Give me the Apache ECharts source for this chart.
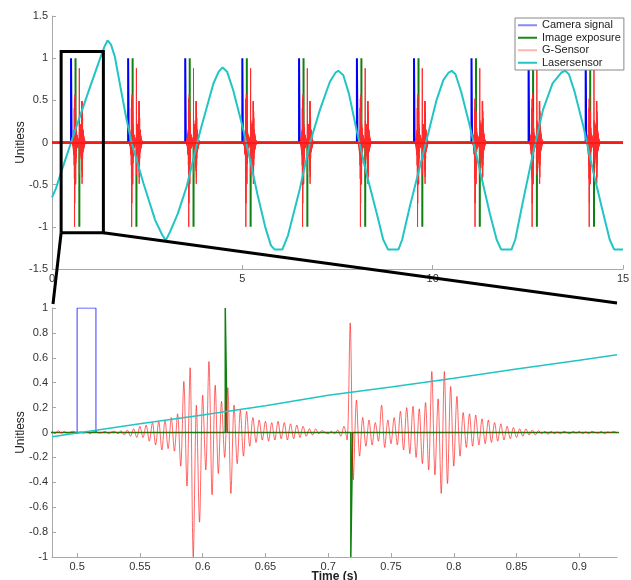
<!DOCTYPE html>
<html>
<head>
<meta charset="utf-8">
<script src="https://cdn.jsdelivr.net/npm/echarts@6/dist/echarts.min.js"></script>
<style>
  html, body { margin: 0; padding: 0; background: #fff; }
  #chart { width: 631px; height: 580px; }
</style>
</head>
<body>
<div id="chart"></div>
<script>
// camera trigger times (s)
const camTimes = [0.5, 2.0, 3.5, 5.0, 6.49, 8.01, 9.51, 11.02, 12.52, 14.02];
const camWidth = 0.015;
// image exposure: +1 pulse and -1 pulse times
const expUpTimes = [0.618, 2.118, 3.618, 5.118, 6.608, 8.128, 9.628, 11.138, 12.638, 14.138];
const expDownTimes = [0.718, 2.218, 3.718, 5.218, 6.708, 8.228, 9.728, 11.238, 12.738, 14.238];
const expWidth = 0.0015;

// G-sensor burst as recorded in the zoom window, sampled every gsDt from gsT0
const gsT0 = 0.48;
const gsDt = 0.0025;
const gsCam = 0.5; // camera time of the recorded burst
const gsVals = [
  0.01, -0.01, 0.015, -0.005, 0.01, -0.015, 0.005, 0.01, -0.01, 0.005,
  -0.005, 0.01, -0.01, 0.005, 0.01, -0.005, 0.0, 0.01, -0.01, 0.005,
  0.01, -0.01, 0.015, -0.02, 0.02, -0.03, 0.03, -0.04, 0.05, -0.04,
  0.06, -0.07, 0.08, -0.1, 0.09, -0.14, 0.1, -0.13, 0.12, -0.15,
  0.15, -0.27, 0.41, -0.43, 0.52, -1.0, 0.22, -0.72, 0.30, -0.30,
  0.57, -0.50, 0.38, -0.33, 0.25, -0.2, 0.36, -0.49, 0.22, -0.25,
  0.18, -0.19, 0.17, -0.11, 0.12, -0.08, 0.10, -0.06, 0.09, -0.07,
  0.08, -0.06, 0.09, -0.05, 0.08, -0.06, 0.07, -0.05, 0.06, -0.04,
  0.05, -0.03, 0.03, -0.02, 0.03, -0.01, 0.015, 0.0, -0.01, 0.01,
  -0.01, 0.02, -0.03, 0.05, -0.06, 0.88, -0.38, 0.26, -0.19, 0.12,
  -0.11, 0.10, -0.10, 0.08, -0.07, 0.22, -0.12, 0.10, -0.09, 0.12,
  -0.10, 0.17, -0.14, 0.20, -0.17, 0.21, -0.20, 0.19, -0.25, 0.24,
  -0.30, 0.49, -0.34, 0.27, -0.49, 0.49, -0.41, 0.37, -0.27, 0.29,
  -0.19, 0.16, -0.12, 0.15, -0.11, 0.14, -0.10, 0.11, -0.09, 0.10,
  -0.08, 0.08, -0.07, 0.07, -0.06, 0.05, -0.05, 0.04, -0.04, 0.03,
  -0.03, 0.03, -0.02, 0.02, -0.02, 0.015, -0.01, 0.01, -0.015, 0.01,
  -0.01, 0.005, -0.01, 0.01, 0.0, -0.01, 0.01, -0.005, 0.01, -0.01,
  0.005, -0.01, 0.01, 0.0, -0.005, 0.01, -0.01, 0.005, 0.0, 0.01, -0.005
];

// laser sensor, full record
const laserT = [0, 0.1, 0.25, 0.5, 0.75, 1.0, 1.25, 1.38, 1.46, 1.55, 1.65, 1.83, 1.96, 2.09, 2.4, 2.71, 2.9, 2.99,
  3.1, 3.3, 3.54, 3.89, 4.24, 4.38, 4.48, 4.6, 4.76, 5.0, 5.2, 5.4, 5.6, 5.75, 5.85, 6.05, 6.2, 6.51, 6.78, 7.04,
  7.3, 7.45, 7.52, 7.65, 7.8, 8.0, 8.25, 8.53, 8.7, 8.83, 9.1, 9.2, 9.4, 9.84, 10.1, 10.28, 10.42, 10.5, 10.6,
  10.75, 10.98, 11.25, 11.5, 11.68, 11.8, 12.07, 12.17, 12.38, 12.65, 12.9, 13.15, 13.38, 13.48, 13.58, 13.73,
  13.96, 14.22, 14.48, 14.65, 14.77, 15];
const laserV = [-0.65, -0.55, -0.34, 0.0, 0.33, 0.66, 0.98, 1.14, 1.21, 1.16, 1.02, 0.58, 0.27, 0.0, -0.48, -0.92, -1.1, -1.16,
  -1.06, -0.85, -0.52, 0.13, 0.70, 0.84, 0.89, 0.84, 0.62, 0.2, -0.2, -0.62, -1.0, -1.22, -1.27, -1.27, -1.1, -0.55, 0.0, 0.39,
  0.72, 0.83, 0.85, 0.8, 0.58, 0.15, -0.35, -0.84, -1.15, -1.27, -1.27, -1.15, -0.76, 0.03, 0.5, 0.74, 0.83, 0.85, 0.81,
  0.6, 0.19, -0.35, -0.84, -1.15, -1.27, -1.27, -1.15, -0.68, -0.1, 0.39, 0.7, 0.83, 0.85, 0.81, 0.6,
  0.19, -0.35, -0.84, -1.15, -1.27, -1.27];
// laser sensor inside the zoom window
const laserZoomT = [0.48, 0.55, 0.6, 0.65, 0.7, 0.75, 0.8, 0.85, 0.9, 0.93];
const laserZoomV = [-0.035, 0.07, 0.14, 0.215, 0.30, 0.365, 0.435, 0.51, 0.58, 0.625];

// zoom rectangle drawn in the upper plot
const zoomBoxX = [0.24, 1.35];
const zoomBoxY = [-1.07, 1.08];
const zoomXTicks = [0.5, 0.55, 0.6, 0.65, 0.7, 0.75, 0.8, 0.85, 0.9];

const font = 'Liberation Sans, Arial, sans-serif';

function pulses(times, width, level, tEnd) {
  const out = [[0, 0]];
  times.forEach(t => {
    out.push([t, 0], [t, level], [t + width, level], [t + width, 0]);
  });
  out.push([tEnd, 0]);
  return out;
}

const camData = pulses(camTimes, camWidth, 1, 15);
const expData = [[0, 0]];
expUpTimes.forEach((t, i) => {
  const d = expDownTimes[i];
  expData.push([t, 0], [t, 1], [t + expWidth, 1], [t + expWidth, 0],
               [d, 0], [d, -1], [d + expWidth, -1], [d + expWidth, 0]);
});
expData.push([15, 0]);

const gsZoom = gsVals.map((v, i) => [gsT0 + i * gsDt, v]);
const gsFull = [[0, 0]];
camTimes.forEach(tc => {
  const s = tc - gsCam;
  gsVals.forEach((v, i) => gsFull.push([gsT0 + i * gsDt + s, v]));
});
gsFull.push([15, 0]);

const laserFull = laserT.map((t, i) => [t, laserV[i]]);
const laserZoom = laserZoomT.map((t, i) => [t, laserZoomV[i]]);

const boxData = [
  [zoomBoxX[0], zoomBoxY[0]], [zoomBoxX[1], zoomBoxY[0]],
  [zoomBoxX[1], zoomBoxY[1]], [zoomBoxX[0], zoomBoxY[1]], [zoomBoxX[0], zoomBoxY[0]]
];

const axisCommon = {
  axisLine: { onZero: false, lineStyle: { color: '#a8a8a8', width: 1 } },
  axisTick: { inside: true, length: 4, lineStyle: { color: '#a8a8a8' } },
  axisLabel: { color: '#333', fontSize: 11, fontFamily: font, margin: 4 },
  splitLine: { show: false }
};
const yName = {
  name: 'Unitless', nameLocation: 'middle', nameGap: 25, nameMoveOverlap: false,
  nameTextStyle: { fontSize: 12, color: '#222', fontFamily: font }
};

const chart = echarts.init(document.getElementById('chart'));
chart.setOption({
  animation: false,
  backgroundColor: '#fff',
  legend: {
    orient: 'vertical',
    left: 515,
    top: 18,
    padding: [1, 3, 1, 3],
    itemGap: 0,
    itemWidth: 19,
    itemHeight: 2,
    icon: 'rect',
    borderColor: '#888',
    borderWidth: 1,
    backgroundColor: '#fff',
    textStyle: { fontSize: 11, fontFamily: font, color: '#222', lineHeight: 12.5 },
    data: [
      { name: 'Camera signal', itemStyle: { color: '#8888ff' } },
      { name: 'Image exposure', itemStyle: { color: '#1a8a1a' } },
      { name: 'G-Sensor', itemStyle: { color: '#ffb3b3' } },
      { name: 'Lasersensor', itemStyle: { color: '#22c4c4' } }
    ]
  },
  grid: [
    { left: 52, top: 16, width: 571, height: 253, outerBoundsMode: 'none' },
    { left: 52, top: 308, width: 565, height: 249, outerBoundsMode: 'none' }
  ],
  xAxis: [
    Object.assign({}, axisCommon, { gridIndex: 0, type: 'value', min: 0, max: 15, interval: 5 }),
    Object.assign({}, axisCommon, {
      gridIndex: 1, type: 'value', min: 0.48, max: 0.93,
      name: 'Time (s)', nameLocation: 'middle', nameGap: 14, nameMoveOverlap: false,
      nameTextStyle: { fontSize: 12, fontWeight: 'bold', color: '#222', fontFamily: font },
      axisTick: Object.assign({}, axisCommon.axisTick, { customValues: zoomXTicks }),
      axisLabel: Object.assign({}, axisCommon.axisLabel, { customValues: zoomXTicks, margin: 4 })
    })
  ],
  yAxis: [
    Object.assign({}, axisCommon, yName, { gridIndex: 0, type: 'value', min: -1.5, max: 1.5, interval: 0.5 }),
    Object.assign({}, axisCommon, yName, { gridIndex: 1, type: 'value', min: -1, max: 1, interval: 0.2 })
  ],
  series: [
    { name: 'Camera signal', type: 'line', xAxisIndex: 0, yAxisIndex: 0, data: camData,
      showSymbol: false, lineStyle: { color: '#0000ff', width: 2 }, itemStyle: { color: '#0000ff' } },
    { name: 'Image exposure', type: 'line', xAxisIndex: 0, yAxisIndex: 0, data: expData,
      showSymbol: false, lineStyle: { color: '#108010', width: 2 }, itemStyle: { color: '#108010' } },
    { name: 'G-Sensor', type: 'line', xAxisIndex: 0, yAxisIndex: 0, data: gsFull,
      showSymbol: false, lineStyle: { color: '#ff2a2a', width: 1 }, itemStyle: { color: '#ff0000' },
      markLine: { silent: true, symbol: 'none', label: { show: false },
        lineStyle: { color: '#ff1010', width: 1.6, type: 'solid' }, data: [{ yAxis: 0 }] } },
    { name: 'Lasersensor', type: 'line', xAxisIndex: 0, yAxisIndex: 0, data: laserFull,
      showSymbol: false, lineStyle: { color: '#22c4c4', width: 2 }, itemStyle: { color: '#22c4c4' } },
    { name: 'zoom', type: 'line', xAxisIndex: 0, yAxisIndex: 0, data: boxData, z: 5,
      showSymbol: false, lineStyle: { color: '#000', width: 3, join: 'miter' } },

    { name: 'Camera signal', type: 'line', xAxisIndex: 1, yAxisIndex: 1, data: camData,
      showSymbol: false, lineStyle: { color: '#3a3aff', width: 1 } },
    { name: 'Image exposure', type: 'line', xAxisIndex: 1, yAxisIndex: 1, data: expData,
      showSymbol: false, lineStyle: { color: '#108010', width: 1.5 } },
    { name: 'G-Sensor', type: 'line', xAxisIndex: 1, yAxisIndex: 1, data: gsZoom, smooth: 0.3,
      showSymbol: false, lineStyle: { color: '#ff0000', width: 0.6 } },
    { name: 'Lasersensor', type: 'line', xAxisIndex: 1, yAxisIndex: 1, data: laserZoom,
      showSymbol: false, lineStyle: { color: '#22c4c4', width: 1.5 } }
  ]
});

// connector lines from the zoom rectangle to the lower plot
const bl = chart.convertToPixel({ gridIndex: 0 }, [zoomBoxX[0], zoomBoxY[0]]);
const br = chart.convertToPixel({ gridIndex: 0 }, [zoomBoxX[1], zoomBoxY[0]]);
const zl = chart.convertToPixel({ gridIndex: 1 }, [0.48, 1]);
const zr = chart.convertToPixel({ gridIndex: 1 }, [0.93, 1]);
chart.setOption({
  graphic: [
    { type: 'line', z: 100, shape: { x1: bl[0], y1: bl[1], x2: zl[0] + 1, y2: zl[1] - 4 },
      style: { stroke: '#000', lineWidth: 3 } },
    { type: 'line', z: 100, shape: { x1: br[0], y1: br[1], x2: zr[0], y2: zr[1] - 5 },
      style: { stroke: '#000', lineWidth: 3 } }
  ]
});
</script>
</body>
</html>
